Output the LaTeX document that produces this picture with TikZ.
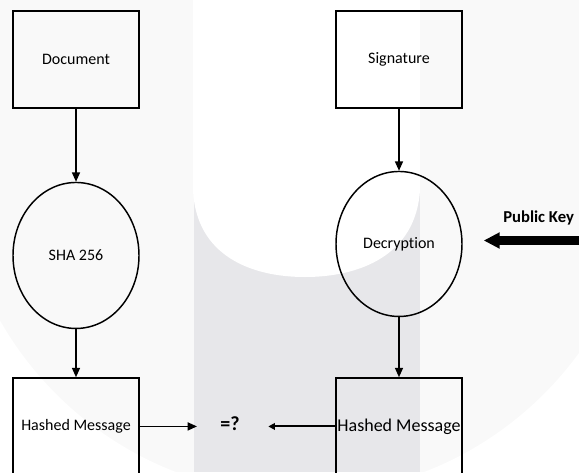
\documentclass[tikz,border=0pt]{standalone}
\usepackage{fontspec}
\setmainfont{Carlito}[Ligatures=NoCommon]
\usepackage{xcolor}
\usetikzlibrary{shapes.geometric,arrows.meta,positioning}

\definecolor{wmlight}{HTML}{F9F9F9}
\definecolor{wmdark}{HTML}{E7E7EA}

\begin{document}
\begin{tikzpicture}[
        x=0.75pt, y=-0.75pt,
        box/.style={rectangle, draw, line width=1.1pt, minimum width=94.5pt, minimum height=72.75pt, inner sep=1pt, font=\fontsize{12}{14}\selectfont},
        proc/.style={ellipse, draw, line width=1.1pt, minimum width=94.5pt, minimum height=109.5pt, inner sep=1pt, font=\fontsize{12}{14}\selectfont},
        arrow/.style={-{Triangle[length=7pt,width=6pt]}, line width=1.1pt},
        keyarrow/.style={-{Triangle[length=12pt,width=11.5pt]}, line width=6.75pt}
      ]
        \useasboundingbox (0,0) rectangle (579,472);

        % Watermark in the background
        \fill[wmlight] (0,0) rectangle (579,472);
        \begin{scope}
          \clip (0,0) rectangle (579,472);
          \fill[white, even odd rule] (-50,-200) rectangle (650,650) (300,150) circle[radius=345];
        \end{scope}
        \fill[wmdark] (194,150) rectangle (420,472);
        \fill[white] (193,-5) -- (193,190) .. controls (196,255) and (250,277) .. (305,277)
          .. controls (360,277) and (416,255) .. (420,190) -- (420,-5) -- cycle;

        % Left column
        \node[box] (doc) at (76,59.5) {Document};
        \node[proc, below=54.75pt of doc] (sha) {SHA 256};
        \node[box, below=36pt of sha] (hash1) {Hashed Message};

        % Right column
        \node[box] (sig) at (399,59.5) {Signature};
        \node[proc, below=46.5pt of sig, minimum height=108.75pt] (dec) {Decryption};
        \node[box, below=45pt of dec, font=\fontsize{13.5}{15}\selectfont] (hash2) {Hashed Message};

        % Comparison
        \node[font=\bfseries\fontsize{15}{17}\selectfont] (eq) at (230,423.5) {=?};

        % Public key
        \coordinate (keystart) at (585,240.5);
        \node[font=\bfseries\fontsize{12.5}{14}\selectfont, anchor=west, inner sep=0pt] (pk) at (503,218) {Public Key};

        % Arrows
        \draw[arrow] (doc) -- (sha);
        \draw[arrow] (sha) -- (hash1);
        \draw[arrow] (sig) -- (dec);
        \draw[arrow] (dec) -- (hash2);
        \draw[arrow, shorten >=14pt] (hash1.east) -- (hash1.east -| eq.west);
        \draw[-{Triangle[length=5pt,width=5pt]}, line width=1.5pt, shorten >=18pt] (hash2.west) -- (hash2.west -| eq.east);
        \draw[keyarrow] (keystart) -- ([xshift=15.75pt]keystart -| dec.east);
      \end{tikzpicture}
\end{document}
